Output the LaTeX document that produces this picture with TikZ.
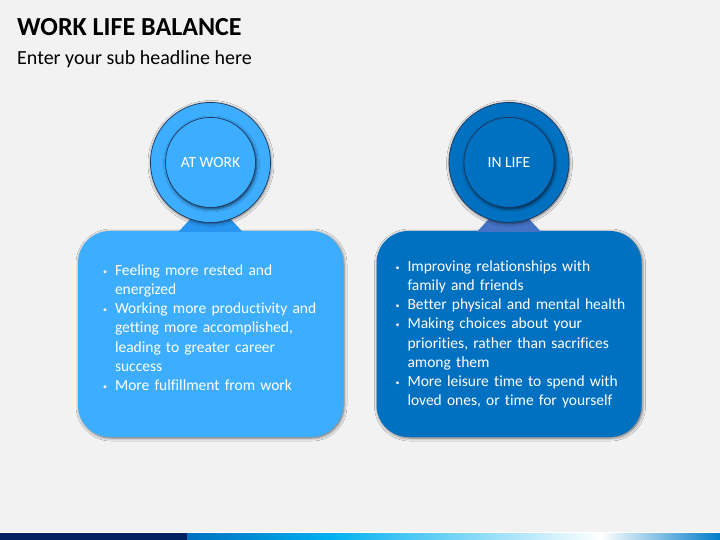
\documentclass[tikz,border=0pt]{standalone}
\usepackage{fontspec}
\setmainfont{Carlito}[Ligatures=NoCommon]
\usetikzlibrary{positioning,shadows.blur}
\definecolor{pagegray}{RGB}{242,242,242}
\definecolor{workblue}{RGB}{61,174,255}
\definecolor{workneckblue}{RGB}{40,150,240}
\definecolor{lifeblue}{RGB}{0,112,192}
\definecolor{lifeneckblue}{RGB}{68,114,196}
\definecolor{ringline}{RGB}{30,55,95}
\definecolor{navy}{RGB}{0,32,96}
\definecolor{cyanblue}{RGB}{0,176,240}
\newcommand{\bitem}[1]{\par\noindent\hangindent=12pt\hangafter=1\makebox[12pt][l]{\raisebox{1pt}{\footnotesize\textbullet}}#1\par}

\begin{document}
\begin{tikzpicture}[x=1pt,y=-1pt,
				panel/.style={rectangle,rounded corners=32pt,minimum width=265pt,minimum height=206pt,inner sep=0pt,
					blur shadow={shadow xshift=1pt,shadow yshift=-1pt,shadow blur radius=3pt,shadow opacity=60}},
				outerring/.style={circle,draw=ringline,line width=0.7pt,minimum size=120pt,inner sep=0pt,
					blur shadow={shadow xshift=0.5pt,shadow yshift=-1pt,shadow blur radius=3pt,shadow opacity=60}},
				innerring/.style={circle,draw=ringline,line width=0.7pt,minimum size=90pt,inner sep=0pt,text=white,
					font=\fontsize{15.5}{18}\selectfont,
					blur shadow={shadow xshift=1pt,shadow yshift=-1.5pt,shadow blur radius=3pt,shadow opacity=70}},
				bullets/.style={text=white,text width=240pt,inner sep=0pt,align=left,font=\fontsize{15.5}{19.2}\selectfont}
				]
				% page
				\fill[pagegray] (0,0) rectangle (720,540);
				\useasboundingbox (0,0) rectangle (720,540);
				\node[anchor=base west,inner sep=0pt,font=\fontsize{26}{30}\bfseries] (title) at (17,35.5) {WORK LIFE BALANCE};
				\node[anchor=base west,inner sep=0pt,font=\fontsize{20}{24}\selectfont] (subtitle) at (17,65) {Enter your sub headline here};
				
				% at work
				\node (workpanel) [panel,fill=workblue] at (210.5,334) {};
				\fill[workneckblue] ([xshift=-32pt,yshift=-1pt]workpanel.north) -- ([xshift=-20pt,yshift=12pt]workpanel.north)
					-- ([xshift=20pt,yshift=12pt]workpanel.north) -- ([xshift=32pt,yshift=-1pt]workpanel.north) -- cycle;
				\node (workring) [outerring,fill=workblue,above=8pt of workpanel] {};
				\node (workcore) [innerring,fill=workblue] at (workring) {AT WORK};
				\node (worklist) [bullets,below right=25pt and 25pt of workpanel.north west] {%
					\bitem{Feeling more rested and\newline energized}
					\bitem{Working more productivity and\newline getting more accomplished,\newline leading to greater career\newline success}
					\bitem{More fulfillment from work}};
				
				% in life
				\node (lifepanel) [panel,fill=lifeblue] at (509,334) {};
				\fill[lifeneckblue] ([xshift=-32pt,yshift=-1pt]lifepanel.north) -- ([xshift=-20pt,yshift=12pt]lifepanel.north)
					-- ([xshift=20pt,yshift=12pt]lifepanel.north) -- ([xshift=32pt,yshift=-1pt]lifepanel.north) -- cycle;
				\node (lifering) [outerring,fill=lifeblue,above=8pt of lifepanel] {};
				\node (lifecore) [innerring,fill=lifeblue] at (lifering) {IN LIFE};
				\node (lifelist) [bullets,below right=21pt and 19pt of lifepanel.north west] {%
					\bitem{Improving relationships with\newline family and friends}
					\bitem{Better physical and mental health}
					\bitem{Making choices about your\newline priorities, rather than sacrifices\newline among them}
					\bitem{More leisure time to spend with\newline loved ones, or time for yourself}};
				
				% bottom strip
				\draw[white,line width=1pt] (0,532) -- (720,532);
				\fill[navy] (0,533) rectangle (187,540);
				\shade[left color=lifeblue,right color=cyanblue] (187,533) rectangle (330,540);
				\shade[left color=cyanblue,right color=white] (330,533) rectangle (601,540);
				\shade[left color=white,right color=lifeblue!80!cyanblue] (601,533) rectangle (720,540);
\end{tikzpicture}
\end{document}
